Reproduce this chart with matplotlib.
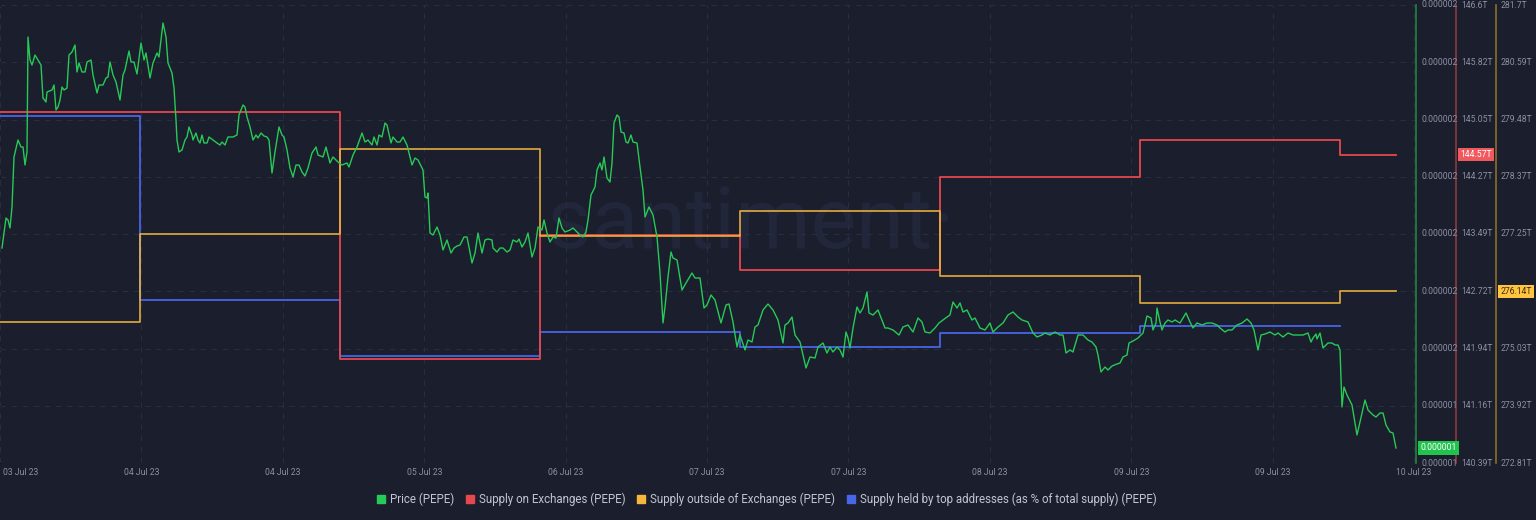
import matplotlib
matplotlib.use("Agg")
import matplotlib.pyplot as plt
import matplotlib.transforms as mtransforms
from matplotlib.lines import Line2D
import numpy as np

# ---------------- data ----------------
# time in hours since the chart start
price_hours = [
    0.24, 0.72, 0.96, 1.2, 1.44, 1.68, 2.16, 2.52, 2.76, 3.0, 3.24, 3.36,
    3.6, 3.84, 4.2, 4.56, 4.92, 5.16, 5.52, 5.64, 6.24, 6.48, 6.72, 6.96, 7.2, 7.44, 7.68, 8.04,
    8.28, 8.64, 9.0, 9.24, 9.48, 9.84, 10.2, 10.44, 10.92, 11.16, 11.64, 11.88, 12.36, 12.72,
    12.96, 13.2, 13.56, 13.92, 14.4, 14.76, 15.0, 15.48, 15.72, 16.08, 16.44, 16.92, 17.28, 17.52,
    18.0, 18.36, 18.84, 19.08, 19.56, 19.92, 20.16, 20.64, 20.88, 21.12, 21.24, 21.48, 21.84, 22.2,
    22.44, 22.68, 23.04, 23.16, 23.52, 23.76, 24.0, 24.24, 24.48, 24.84, 25.08, 25.56, 26.04, 26.4,
    26.64, 27.0, 27.36, 27.96, 28.44, 28.68, 29.16, 29.4, 29.64, 30.0, 30.36, 30.72, 30.96, 31.32,
    31.68, 32.04, 32.28, 32.64, 33.0, 33.48, 33.84, 34.08, 34.44, 34.8, 35.16, 35.52, 35.88, 36.24,
    36.6, 36.96, 37.44, 37.92, 38.16, 38.76, 39.12, 39.6, 39.96, 40.56, 41.04, 41.64, 41.88, 42.36,
    42.84, 43.44, 43.8, 44.16, 44.64, 44.88, 45.24, 45.48, 45.84, 46.2, 46.44, 46.92, 47.16, 47.64, 48.0,
    48.36, 48.84, 49.44, 49.8, 50.16, 50.76, 51.0, 51.24, 51.36, 51.6, 51.96, 52.44, 52.8, 53.16,
    53.64, 54.12, 54.48, 54.84, 55.2, 55.68, 56.04, 56.28, 56.64, 57.0, 57.36, 57.84, 58.2, 58.56,
    59.04, 59.16, 59.64, 60.0, 60.36, 60.84, 61.2, 61.56, 62.04, 62.28, 62.64, 63.0, 63.36, 63.84,
    64.2, 64.56, 65.04, 65.28, 65.64, 66.0, 66.36,
    66.72, 67.08, 67.44, 67.8, 68.4, 68.76, 69.24, 69.6, 69.96, 70.32, 70.56, 70.92, 71.4, 71.64,
    72.0, 72.24, 72.48, 72.84, 73.2, 73.44, 73.68, 74.04, 74.28, 74.52, 74.88, 75.12, 75.36, 75.72,
    75.96, 76.44, 76.8, 77.16, 77.4, 77.88, 78.36, 78.84, 79.2, 79.56, 79.8, 80.16, 80.52, 80.76,
    81.24, 81.84, 82.32, 83.04, 83.4, 84.0,
    84.48, 84.84, 85.32, 85.8, 86.52, 87.12, 87.48, 87.96, 88.44, 88.8, 89.4, 89.76, 90.24, 90.6,
    90.96, 91.56, 92.16, 92.76, 93.36, 93.96, 94.2, 94.56, 95.04, 95.4, 96.0, 96.72, 97.2, 97.8,
    98.16, 98.76, 99.24, 99.6, 99.96, 100.44, 100.8, 101.16, 101.52, 101.76, 102.0, 102.36, 102.84,
    103.2, 103.56, 104.04, 104.28, 104.76, 105.36, 105.96, 106.2, 106.56, 107.16, 107.88, 108.36,
    108.96, 109.56, 110.16, 110.64, 111.0, 111.6, 112.2, 112.68, 113.64, 114.0, 114.36, 114.84,
    115.2, 115.56, 116.04, 116.64, 117.0, 117.6, 118.2, 118.8, 119.16, 119.76, 120.36, 120.96,
    121.56, 122.16, 122.64, 123.36, 123.96, 124.44, 125.04, 125.4, 126.0, 126.6, 127.2, 127.56,
    127.92, 128.4, 128.76, 129.36, 129.96,
    130.56, 131.04, 131.52, 131.76, 132.12, 132.6, 132.96, 133.44, 134.04, 134.4, 134.76, 135.24,
    135.48, 135.96, 136.56, 137.16, 137.64, 138.12, 138.36, 138.72, 138.84, 139.2, 139.44, 139.8,
    140.16, 140.64, 141.0, 141.6, 142.32, 142.8, 143.16, 143.64, 144.24, 144.84, 145.44, 146.04,
    146.4, 147.0, 147.36, 147.84, 148.44, 149.04, 149.64, 150.12, 150.48, 150.96, 151.32, 151.8,
    152.4, 153.0, 153.36, 153.96, 154.56, 155.16, 155.76, 156.36, 156.96, 157.32, 157.56, 157.92,
    158.04, 158.4, 158.76, 159.36, 159.84, 160.2, 160.56, 160.8, 161.04, 161.28, 161.64, 162.24,
    162.84, 163.44, 163.8, 164.16, 164.76, 165.12, 165.6, 165.96, 166.32, 166.8, 167.16, 167.52,
]
# price in micro-dollars (x 1e-6 USD)
price_micro = [
    1.615, 1.645, 1.643, 1.635, 1.656, 1.706, 1.723, 1.716, 1.716, 1.698, 1.711, 1.826,
    1.803, 1.798, 1.808, 1.803, 1.798, 1.765, 1.761, 1.771, 1.773, 1.778, 1.753, 1.756, 1.763, 1.776, 1.773, 1.775,
    1.808, 1.811, 1.818, 1.791, 1.800, 1.791, 1.791, 1.801, 1.803, 1.788, 1.770, 1.778, 1.778, 1.785,
    1.786, 1.801, 1.788, 1.781, 1.763, 1.788, 1.793, 1.812, 1.801, 1.801, 1.789, 1.820, 1.803, 1.810,
    1.785, 1.800, 1.810, 1.806, 1.840, 1.826, 1.800, 1.790, 1.775, 1.743, 1.723, 1.711, 1.713, 1.723,
    1.726, 1.736, 1.728, 1.723, 1.730, 1.723, 1.720, 1.728, 1.720, 1.720, 1.726, 1.723, 1.720, 1.718,
    1.721, 1.718, 1.726, 1.726, 1.728, 1.748, 1.758, 1.756, 1.746, 1.736, 1.723, 1.728, 1.725, 1.730,
    1.727, 1.726, 1.723, 1.690, 1.711, 1.736, 1.728, 1.726, 1.713, 1.695, 1.686, 1.698, 1.698, 1.691,
    1.687, 1.695, 1.710, 1.716, 1.708, 1.706, 1.716, 1.700, 1.706, 1.701, 1.698, 1.700, 1.696, 1.708,
    1.716, 1.730, 1.721, 1.723, 1.718, 1.726, 1.718, 1.728, 1.726, 1.740, 1.738, 1.720, 1.726, 1.721, 1.721,
    1.726, 1.718, 1.698, 1.705, 1.703, 1.693, 1.666, 1.665, 1.670, 1.630, 1.628, 1.636, 1.628, 1.613,
    1.623, 1.610, 1.615, 1.617, 1.618, 1.626, 1.626, 1.616, 1.600, 1.610, 1.630, 1.610, 1.623, 1.624,
    1.623, 1.615, 1.611, 1.615, 1.615, 1.611, 1.613, 1.623, 1.621, 1.624, 1.616, 1.621, 1.630, 1.606,
    1.615, 1.636, 1.633, 1.643, 1.630, 1.621, 1.626,
    1.625, 1.645, 1.635, 1.631, 1.633, 1.635, 1.631, 1.628, 1.626, 1.631, 1.643, 1.668, 1.676, 1.693,
    1.700, 1.693, 1.706, 1.685, 1.681, 1.700, 1.740, 1.748, 1.746, 1.731, 1.730, 1.721, 1.720, 1.728,
    1.721, 1.720, 1.696, 1.673, 1.646, 1.656, 1.648, 1.626, 1.590, 1.540, 1.556, 1.586, 1.611, 1.605,
    1.603, 1.573, 1.580, 1.590, 1.585, 1.585,
    1.555, 1.558, 1.568, 1.563, 1.540, 1.558, 1.559, 1.541, 1.516, 1.528, 1.513, 1.523, 1.521, 1.536,
    1.538, 1.553, 1.559, 1.553, 1.543, 1.520, 1.538, 1.540, 1.546, 1.528, 1.521, 1.495, 1.506, 1.505,
    1.516, 1.520, 1.510, 1.516, 1.511, 1.516, 1.513, 1.506, 1.531, 1.525, 1.515, 1.535, 1.556,
    1.550, 1.555, 1.571, 1.550, 1.548, 1.553, 1.540, 1.535, 1.535, 1.533, 1.528, 1.536,
    1.538, 1.531, 1.545, 1.541, 1.531, 1.530, 1.535, 1.540, 1.546, 1.548, 1.561, 1.555,
    1.560, 1.551, 1.553, 1.543, 1.545, 1.535, 1.533, 1.540, 1.531, 1.536, 1.540, 1.548,
    1.551, 1.546, 1.543, 1.541, 1.530, 1.526, 1.528, 1.530, 1.528, 1.531, 1.528, 1.528,
    1.510, 1.513, 1.511, 1.528, 1.528,
    1.523, 1.521, 1.516, 1.508, 1.491, 1.496, 1.493, 1.497, 1.499, 1.500, 1.506, 1.508,
    1.520, 1.522, 1.525, 1.530, 1.547, 1.545, 1.533, 1.540, 1.555, 1.541, 1.533, 1.540,
    1.543, 1.541, 1.543, 1.540, 1.550, 1.541, 1.535, 1.540, 1.538, 1.540, 1.540, 1.538,
    1.535, 1.531, 1.533, 1.533, 1.538, 1.540, 1.544, 1.540, 1.533, 1.513, 1.528, 1.529,
    1.531, 1.528, 1.530, 1.526, 1.530, 1.528, 1.528, 1.528, 1.530, 1.521, 1.525, 1.529,
    1.524, 1.530, 1.515, 1.520, 1.520, 1.518, 1.518, 1.513, 1.456, 1.476, 1.468, 1.458,
    1.428, 1.450, 1.463, 1.453, 1.448, 1.446, 1.450, 1.450, 1.438, 1.431, 1.430, 1.415,
]

# daily supply snapshots (step series)
step_hours = [0, 16.8, 40.8, 64.8, 88.8, 112.8, 136.8, 160.8, 167.5]
supply_on_exchanges_T = [145.15, 145.15, 141.80, 143.48, 143.01, 144.27, 144.77, 144.57, 144.57]
supply_outside_exchanges_T = [275.55, 277.25, 278.90, 277.22, 277.70, 276.44, 275.92, 276.14, 276.14]
top_hours = [0, 16.8, 40.8, 64.8, 88.8, 112.8, 136.8, 160.8]
top_holders_pct = [48.55, 46.14, 45.40, 45.71, 45.52, 45.70, 45.80, 45.80]

x_tick_labels = ["03 Jul 23", "04 Jul 23", "04 Jul 23", "05 Jul 23", "06 Jul 23", "07 Jul 23",
                 "07 Jul 23", "08 Jul 23", "09 Jul 23", "09 Jul 23", "10 Jul 23"]
price_tick_labels = ["0.000001", "0.000001", "0.000002", "0.000002", "0.000002",
                     "0.000002", "0.000002", "0.000002", "0.000002"]
exch_tick_labels = ["140.39T", "141.16T", "141.94T", "142.72T", "143.49T",
                    "144.27T", "145.05T", "145.82T", "146.6T"]
outside_tick_labels = ["272.81T", "273.92T", "275.03T", "276.14T", "277.25T",
                       "278.37T", "279.48T", "280.59T", "281.7T"]
legend_labels = ["Price (PEPE)", "Supply on Exchanges (PEPE)", "Supply outside of Exchanges (PEPE)",
                 "Supply held by top addresses (as % of total supply) (PEPE)"]

# ---------------- style ----------------
BG = "#1b1e2c"
GRID = "#292d3d"
TXT = "#8b90a3"
C_PRICE = "#27c957"
C_RED = "#e5484d"
C_YEL = "#f5b83d"
C_BLUE = "#4866e8"
FONT = ["Roboto", "DejaVu Sans"]
plt.rcParams["font.family"] = FONT
TICK_FS = 6.2

W, H = 1536, 520
fig = plt.figure(figsize=(W / 100, H / 100), dpi=100, facecolor=BG)
L, R, T, B = 0, 1416, 5, 463
ax = fig.add_axes([L / W, 1 - B / H, (R - L) / W, (B - T) / H])
ax.set_facecolor(BG)

XMAX = 169.92
ax.set_xlim(0, XMAX)
ax.set_ylim(44.0, 50.0)
for s in ax.spines.values():
    s.set_visible(False)

# x ticks
xt = np.arange(len(x_tick_labels)) * (XMAX * 1414 / 1416 / 10)
ax.set_xticks(xt)
ax.set_xticklabels(x_tick_labels)
ax.tick_params(axis="x", length=0, pad=3.5, labelsize=TICK_FS, labelcolor=TXT)
first = ax.get_xticklabels()[0]
first.set_horizontalalignment("left")
first.set_transform(first.get_transform() + mtransforms.ScaledTranslation(3 / 100, 0, fig.dpi_scale_trans))
ax.set_yticks(np.linspace(44.0, 50.0, 9))
ax.tick_params(axis="y", left=False, labelleft=False)
ax.grid(True, color=GRID, linewidth=0.8, linestyle=(0, (5, 5)))
ax.set_axisbelow(True)

# watermark
ax.text(0.53, 0.52, "santiment\u00b7", transform=ax.transAxes, ha="center", va="center",
        fontsize=62, color="#22263a", fontweight="normal", zorder=0.5)

# blue on base axes (hidden scale)
ax.step(top_hours, top_holders_pct, where="post", color=C_BLUE, lw=1.3, zorder=2)

ax_red = ax.twinx()
ax_yel = ax.twinx()
ax_pr = ax.twinx()

def style_twin(a, offset_px, color, labels):
    for k in ("left", "top", "bottom"):
        a.spines[k].set_visible(False)
    a.spines["right"].set_position(("axes", 1 + offset_px / (R - L)))
    a.spines["right"].set_color(color)
    a.spines["right"].set_linewidth(1.2)
    lo, hi = a.get_ylim()
    a.set_yticks(np.linspace(lo, hi, len(labels)))
    a.set_yticklabels(labels)
    a.tick_params(axis="y", length=0, pad=3.6, labelsize=TICK_FS, labelcolor=TXT)
    for t in a.get_yticklabels():
        t.set_verticalalignment("center")

ax_red.set_ylim(140.39, 146.6)
ax_yel.set_ylim(272.81, 281.7)
ax_pr.set_ylim(1.400e-6, 1.858e-6)

ax_red.step(step_hours, supply_on_exchanges_T, where="post", color=C_RED, lw=1.3)
ax_yel.step(step_hours, supply_outside_exchanges_T, where="post", color=C_YEL, lw=1.3, alpha=0.85)
ax_pr.plot(price_hours, np.array(price_micro) * 1e-6, color=C_PRICE, lw=1.0)

style_twin(ax_pr, 0, "#22863f", price_tick_labels)
style_twin(ax_red, 40, "#8e3a40", exch_tick_labels)
style_twin(ax_yel, 80, "#8c6d2c", outside_tick_labels)

# current-value badges
def badge(a, offset_px, yval, text, fc, tc):
    tr = mtransforms.blended_transform_factory(a.transAxes, a.transData)
    a.text(1 + (offset_px + 4.5) / (R - L), yval, text, transform=tr, ha="left", va="center",
           fontsize=TICK_FS, color=tc, zorder=10, clip_on=False,
           bbox=dict(boxstyle="square,pad=0.25", fc=fc, ec="none"))

badge(ax_pr, 0, price_micro[-1] * 1e-6, "0.000001", "#22c24f", "white")
badge(ax_red, 40, supply_on_exchanges_T[-1], "144.57T", "#f05a5e", "white")
badge(ax_yel, 80, supply_outside_exchanges_T[-1], "276.14T", "#ffc440", "#3a2d10")

# legend
handles = [Line2D([], [], marker="s", linestyle="none", markersize=5.5, color=c)
           for c in (C_PRICE, C_RED, C_YEL, C_BLUE)]
leg = fig.legend(handles, legend_labels, loc="center", bbox_to_anchor=(0.499, 1 - 499 / H),
                 ncol=4, frameon=False, fontsize=8.3, handletextpad=0.35, columnspacing=1.0,
                 handlelength=0.8, labelcolor="#c3c6d2")

fig.savefig("out.png", dpi=100, facecolor=BG)
